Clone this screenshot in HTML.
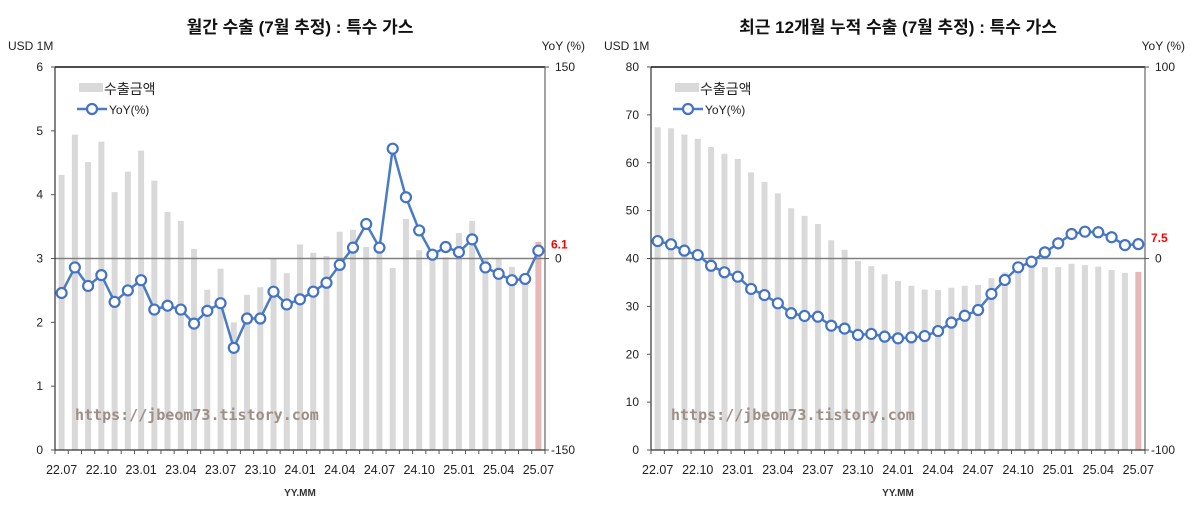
<!DOCTYPE html>
<html><head><meta charset="utf-8"><style>
html,body{margin:0;padding:0;background:#fff;}
svg{display:block;font-family:"Liberation Sans","Noto Sans CJK KR",sans-serif;}
</style></head><body>
<svg id="c" width="1200" height="521" viewBox="0 0 1200 521"></svg>
<script>
const categories = [];
for (let y = 22, m = 7, i = 0; i < 37; i++) { categories.push(String(y) + '.' + String(m).padStart(2, '0')); m++; if (m > 12) { m = 1; y++; } }
const monthlyExports = [4.31,4.94,4.51,4.83,4.04,4.36,4.69,4.22,3.73,3.59,3.15,2.51,2.84,2.0,2.43,2.55,3.0,2.77,3.22,3.09,3.04,3.42,3.45,3.18,3.2,2.85,3.62,3.13,3.1,3.02,3.40,3.59,3.0,3.0,2.87,2.7,3.26];
const monthlyYoY = [-27,-7,-21.5,-13,-34,-25,-17,-40,-37,-40,-51,-41,-35,-70,-47,-47,-26,-36,-32,-26,-19,-5,8.5,27,8.5,86,48,22,3,9,5,15,-7,-12,-17,-16,6.1];
const cumExports = [67.4,67.2,65.9,65.0,63.3,61.9,60.8,58.0,56.0,53.6,50.5,48.9,47.2,43.8,41.8,39.5,38.4,36.7,35.3,34.3,33.5,33.4,33.9,34.3,34.5,35.9,37.1,38.3,39.3,38.2,38.2,38.9,38.6,38.3,37.6,37.0,37.2];
const cumYoY = [9.1,7.4,4.1,1.8,-3.8,-7.2,-9.5,-15.9,-19.1,-23.4,-28.6,-30,-30.4,-35.1,-36.6,-39.9,-39.4,-40.8,-41.7,-41.2,-40.5,-37.9,-33.5,-29.9,-26.9,-18.5,-11.2,-4.6,-1.7,3.2,7.9,12.8,14.0,13.7,11.1,7.0,7.5];
const leftTicks1 = [0,1,2,3,4,5,6];
const rightTicks1 = [-150,0,150];
const leftTicks2 = [0,10,20,30,40,50,60,70,80];
const rightTicks2 = [-100,0,100];

const svg = document.getElementById('c');
const NS = 'http://www.w3.org/2000/svg';
function mk(tag, attrs, parent) {
  const e = document.createElementNS(NS, tag);
  for (const k in attrs) e.setAttribute(k, attrs[k]);
  (parent || svg).appendChild(e);
  return e;
}
function txt(s, attrs, parent) { const t = mk('text', attrs, parent); t.textContent = s; return t; }

function drawChart(o) {
  const g = mk('g', {});
  
  
  const x0 = o.x0, x1 = o.x1, yT = 67, yB = 450;
  const n = categories.length, step = (x1 - x0) / n;
  const xc = i => x0 + step * (i + 0.5);
  const yL = v => yB - (v - o.lmin) / (o.lmax - o.lmin) * (yB - yT);
  const yR = v => yB - (v - o.rmin) / (o.rmax - o.rmin) * (yB - yT);
  let t = txt(o.title, {x: (x0 + x1) / 2, y: 33, 'text-anchor': 'middle', 'font-size': 17, 'font-weight': 'bold', fill: '#111'}, g);
   
  t = txt('USD 1M', {x: x0 - 47, y: 50, 'font-size': 12, fill: '#222'}, g);
   
  t = txt('YoY (%)', {x: x1 + 40, y: 50, 'text-anchor': 'end', 'font-size': 12, fill: '#222'}, g);
   
  // bars
  o.bars.forEach((v, i) => {
    const r = mk('rect', {x: xc(i) - 3, y: yL(v), width: 6, height: yB - yL(v), fill: i === n - 1 ? '#e6b9b8' : '#d9d9d9'}, g);
    
    
  });
  // zero line
  const zl = mk('line', {x1: x0, x2: x1, y1: yR(0), y2: yR(0), stroke: '#808080', 'stroke-width': 1.5}, g);
   
  // frame
  mk('line', {x1: x0, x2: x1, y1: yT, y2: yT, stroke: '#111', 'stroke-width': 1.5}, g);
  mk('line', {x1: x0, x2: x0, y1: yT, y2: yB, stroke: '#333', 'stroke-width': 1.2}, g);
  mk('line', {x1: x1, x2: x1, y1: yT, y2: yB, stroke: '#666', 'stroke-width': 1.2}, g);
  mk('line', {x1: x0, x2: x1, y1: yB, y2: yB, stroke: '#333', 'stroke-width': 1.2}, g);
  for (let i = 0; i <= n; i++) mk('line', {x1: x0 + step * i, x2: x0 + step * i, y1: yB, y2: yB + 4, stroke: '#555', 'stroke-width': 1}, g);
  o.lticks.forEach(v => {
    mk('line', {x1: x0 - 4, x2: x0, y1: yL(v), y2: yL(v), stroke: '#555'}, g);
    const l = txt(String(v), {x: x0 - 12, y: yL(v) + 4, 'text-anchor': 'end', 'font-size': 12, fill: '#222'}, g);
     
  });
  o.rticks.forEach(v => {
    mk('line', {x1: x1, x2: x1 + 4, y1: yR(v), y2: yR(v), stroke: '#555'}, g);
    const l = txt(String(v), {x: x1 + (v < 0 ? 6 : 10), y: yR(v) + 4, 'font-size': 12, fill: '#222'}, g);
     
  });
  categories.forEach((c, i) => {
    if (i % 3 === 0) {
      const l = txt(c, {x: xc(i), y: 474, 'text-anchor': 'middle', 'font-size': 12.5, fill: '#222'}, g);
       
    }
  });
  t = txt('YY.MM', {x: (x0 + x1) / 2, y: 496, 'text-anchor': 'middle', 'font-size': 10, 'font-weight': 'bold', fill: '#333'}, g);
   
  // watermark
  t = txt('https://jbeom73.tistory.com', {x: x0 + 20, y: 420, 'font-size': 15, 'font-weight': 'bold', fill: '#9d8f86', 'font-family': '"DejaVu Sans Mono","Liberation Mono",monospace'}, g);
   
  // line
  const pts = o.line.map((v, i) => xc(i) + ',' + yR(v)).join(' ');
  const pl = mk('polyline', {points: pts, fill: 'none', stroke: '#4a7cc4', 'stroke-width': 2.5}, g);
   
  o.line.forEach((v, i) => {
    const c = mk('circle', {cx: xc(i), cy: yR(v), r: 5, fill: '#fff', stroke: '#4472c4', 'stroke-width': 2.2}, g);
    
    
  });
  const lv = o.line[n - 1];
  t = txt(String(lv), {x: x1 + 6, y: yR(lv) - 2, 'font-size': 12, 'font-weight': 'bold', fill: '#ff0000'}, g);
   
  // legend
  const lg = mk('g', {}, g);
   
  mk('rect', {x: x0 + 24, y: 83, width: 24, height: 9, fill: '#d9d9d9'}, lg);
  txt('수출금액', {x: x0 + 49, y: 94, 'font-size': 14, fill: '#222'}, lg);
  mk('line', {x1: x0 + 22, x2: x0 + 52, y1: 109, y2: 109, stroke: '#4a7cc4', 'stroke-width': 2.5}, lg);
  mk('circle', {cx: x0 + 37, cy: 109, r: 5, fill: '#fff', stroke: '#4472c4', 'stroke-width': 2.2}, lg);
  txt('YoY(%)', {x: x0 + 54, y: 114, 'font-size': 12, fill: '#222'}, lg);
}

drawChart({name: 'monthly-export-chart', title: '월간 수출 (7월 추정) : 특수 가스', x0: 55, x1: 545, lmin: 0, lmax: 6, rmin: -150, rmax: 150, lticks: leftTicks1, rticks: rightTicks1, bars: monthlyExports, line: monthlyYoY});
drawChart({name: 'cumulative-export-chart', title: '최근 12개월 누적 수출 (7월 추정) : 특수 가스', x0: 651, x1: 1145, lmin: 0, lmax: 80, rmin: -100, rmax: 100, lticks: leftTicks2, rticks: rightTicks2, bars: cumExports, line: cumYoY});
</script>
</body></html>
